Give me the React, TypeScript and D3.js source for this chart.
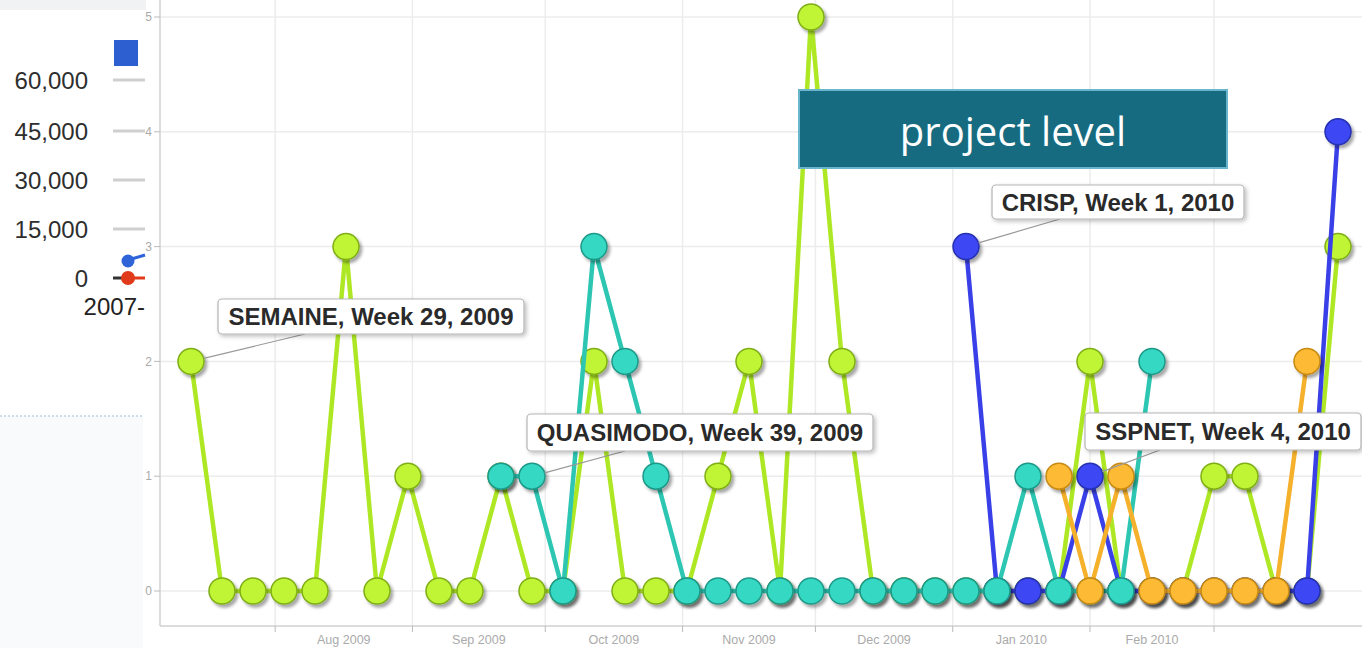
import React from "react";
import * as d3 from "d3";

// ---- data ----
const weekStarts = [
  "2009-07-13","2009-07-20","2009-07-27","2009-08-03","2009-08-10","2009-08-17","2009-08-24","2009-08-31",
  "2009-09-07","2009-09-14","2009-09-21","2009-09-28","2009-10-05","2009-10-12","2009-10-19","2009-10-26",
  "2009-11-02","2009-11-09","2009-11-16","2009-11-23","2009-11-30","2009-12-07","2009-12-14","2009-12-21",
  "2009-12-28","2010-01-04","2010-01-11","2010-01-18","2010-01-25","2010-02-01","2010-02-08","2010-02-15",
  "2010-02-22","2010-03-01","2010-03-08","2010-03-15","2010-03-22","2010-03-29"
];
const N = null;
const semaine = [2,0,0,0,0,3,0,1,0,0,1,0,0,2,0,0,0,1,2,0,5,2,0,0,0,0,0,0,0,2,0,0,0,1,1,0,0,3];
const crisp = [N,N,N,N,N,N,N,N,N,N,N,N,N,N,N,N,N,N,N,N,N,N,N,N,N,3,0,0,0,1,0,0,0,0,0,0,0,4];
const quasimodo = [N,N,N,N,N,N,N,N,N,N,1,1,0,3,2,1,0,0,0,0,0,0,0,0,0,0,0,1,0,0,0,2,N,N,N,N,N,N];
const sspnet = [N,N,N,N,N,N,N,N,N,N,N,N,N,N,N,N,N,N,N,N,N,N,N,N,N,N,N,N,1,0,1,0,0,0,0,0,2,N];
const yTicks = [0,1,2,3,4,5];
const monthTicks = ["2009-08-01","2009-09-01","2009-10-01","2009-11-01","2009-12-01","2010-01-01","2010-02-01","2010-03-01"];
const monthLabels = ["Aug 2009","Sep 2009","Oct 2009","Nov 2009","Dec 2009","Jan 2010","Feb 2010"];
const annotations = [
  { text: "SEMAINE, Week 29, 2009", series: 0, index: 0 },
  { text: "QUASIMODO, Week 39, 2009", series: 2, index: 11 },
  { text: "CRISP, Week 1, 2010", series: 1, index: 25 },
  { text: "SSPNET, Week 4, 2010", series: 1, index: 29 },
];
const leftTickLabels = ["60,000","45,000","30,000","15,000","0"];

// ---- layout / style ----
const W = 1362, H = 648;
const annBoxes = [
  { x: 218, y: 299, w: 306, h: 35, tx: 305 },
  { x: 527, y: 414, w: 346, h: 37, tx: 625 },
  { x: 992, y: 185, w: 252, h: 34, tx: 1060 },
  { x: 1085, y: 413, w: 276, h: 37, tx: 1160 },
];
const seriesStyles = [
  { line: "#aee824", fill: "#bff536", stroke: "#7fae16" },
  { line: "#3a40e8", fill: "#3d46f4", stroke: "#2530b0" },
  { line: "#2cc6b2", fill: "#34d8c2", stroke: "#1e9888" },
  { line: "#f5b02c", fill: "#fdbb35", stroke: "#c88a12" },
];
const allSeries = [semaine, crisp, quasimodo, sspnet];

export default function App() {
  const parse = d3.utcParse("%Y-%m-%d");
  const dates = weekStarts.map((s) => parse(s)!);
  const x = d3.scaleUtc().domain([dates[0], dates[dates.length - 1]]).range([191, 1338]);
  const y = d3.scaleLinear().domain([0, 5]).range([591, 17]);
  const plotL = 160, plotB = 626;
  const mt = monthTicks.map((s) => parse(s)!);
  const R = 13;

  const line = d3
    .line<number | null>()
    .defined((d) => d !== null)
    .x((_, i) => x(dates[i]))
    .y((d) => y(d as number));

  return (
    <svg width={W} height={H} style={{ position: "fixed", left: 0, top: 0, background: "#fff" }}
      fontFamily="Arial, 'Liberation Sans', sans-serif">
      <defs>
        <filter id="sh" x="-50%" y="-50%" width="200%" height="200%">
          <feDropShadow dx="2.5" dy="3" stdDeviation="1.6" floodColor="#000" floodOpacity="0.35" />
        </filter>
        <filter id="bsh" x="-10%" y="-30%" width="120%" height="160%">
          <feDropShadow dx="2" dy="2" stdDeviation="2" floodColor="#000" floodOpacity="0.25" />
        </filter>
      </defs>
      <rect x={0} y={0} width={W} height={H} fill="#fff" />

      {/* left fragment of another chart */}
      <rect x={0} y={0} width={146} height={10} fill="#f1f2f4" />
      <rect x={0} y={416} width={143} height={232} fill="#f8fafc" />
      <line x1={0} x2={143} y1={416} y2={416} stroke="#cfdcea" strokeWidth={2} strokeDasharray="2,2" />
      <rect x={114} y={40} width={24} height={26} fill="#2e5fd0" />
      {leftTickLabels.map((t, i) => {
        const yy = [80, 131, 180, 229, 278][i];
        return (
          <g key={t}>
            <text x={88} y={yy} dy="0.36em" textAnchor="end" fontSize={24} fill="#2e2e2e">{t}</text>
            {i < 4 && <line x1={113} x2={145} y1={yy} y2={yy} stroke="#cfcfcf" strokeWidth={3} />}
          </g>
        );
      })}
      <line x1={113} x2={128} y1={278} y2={278} stroke="#333" strokeWidth={3} />
      <line x1={128} x2={145} y1={278} y2={278} stroke="#e03a1a" strokeWidth={3} />
      <circle cx={128} cy={278} r={7} fill="#e03a1a" />
      <line x1={128} x2={145} y1={260} y2={255} stroke="#2f63d8" strokeWidth={3} />
      <circle cx={128} cy={261} r={6.5} fill="#2f63d8" />
      <text x={145} y={306} dy="0.36em" textAnchor="end" fontSize={24} fill="#222">2007-</text>

      {/* grid */}
      {yTicks.map((t) => (
        <line key={"hg" + t} x1={plotL} x2={W} y1={y(t)} y2={y(t)} stroke="#ececec" strokeWidth={1.5} />
      ))}
      {mt.map((d, i) => (
        <line key={"vg" + i} x1={x(d)} x2={x(d)} y1={0} y2={plotB} stroke="#ececec" strokeWidth={1.5} />
      ))}
      {/* axes */}
      <line x1={plotL} x2={plotL} y1={0} y2={plotB} stroke="#d0d0d0" strokeWidth={1.5} />
      <line x1={plotL} x2={W} y1={plotB} y2={plotB} stroke="#d0d0d0" strokeWidth={1.5} />
      {yTicks.map((t) => (
        <g key={"yt" + t}>
          <line x1={154} x2={plotL} y1={y(t)} y2={y(t)} stroke="#bbb" />
          <text x={152} y={y(t)} dy="0.35em" textAnchor="end" fontSize={12} fill="#aaa">{t}</text>
        </g>
      ))}
      {mt.map((d, i) => (
        <line key={"xt" + i} x1={x(d)} x2={x(d)} y1={plotB} y2={plotB + 6} stroke="#bbb" />
      ))}
      {monthLabels.map((l, i) => (
        <text key={l} x={(x(mt[i]) + x(mt[i + 1])) / 2} y={644} textAnchor="middle" fontSize={12.5} fill="#aaa">{l}</text>
      ))}

      {/* series */}
      {allSeries.map((s, si) => (
        <g key={"s" + si}>
          <path d={line(s) || ""} fill="none" stroke={seriesStyles[si].line} strokeWidth={4.5} strokeLinejoin="round" />
          {s.map((v, i) =>
            v === null ? null : (
              <circle key={i} cx={x(dates[i])} cy={y(v)} r={R} fill={seriesStyles[si].fill}
                stroke={seriesStyles[si].stroke} strokeWidth={1.5} filter="url(#sh)" />
            )
          )}
        </g>
      ))}

      {/* title box */}
      <rect x={799} y={90} width={428} height={78} fill="#176b80" stroke="#6ab4cc" strokeWidth={2} />
      <text x={1013} y={132} dy="0.35em" textAnchor="middle" fontSize={40} fill="#fff"
        fontFamily="'Open Sans', 'Noto Sans', sans-serif">project level</text>

      {/* annotations */}
      {annotations.map((a, i) => {
        const b = annBoxes[i];
        const px = x(dates[a.index]);
        const py = y(allSeries[a.series][a.index] as number);
        const tx = b.tx, ty = b.y + b.h;
        const ang = Math.atan2(ty - py, tx - px);
        return (
          <g key={a.text}>
            <line x1={px + Math.cos(ang) * R} y1={py + Math.sin(ang) * R} x2={tx} y2={ty} stroke="#999" strokeWidth={1.2} />
            <rect x={b.x} y={b.y} width={b.w} height={b.h} rx={4} fill="#fff" stroke="#b5b5b5" strokeWidth={1.2} filter="url(#bsh)" />
            <text x={b.x + b.w / 2} y={b.y + b.h / 2} dy="0.36em" textAnchor="middle" fontSize={24} fontWeight="bold" fill="#2a2a2a">{a.text}</text>
          </g>
        );
      })}
    </svg>
  );
}
